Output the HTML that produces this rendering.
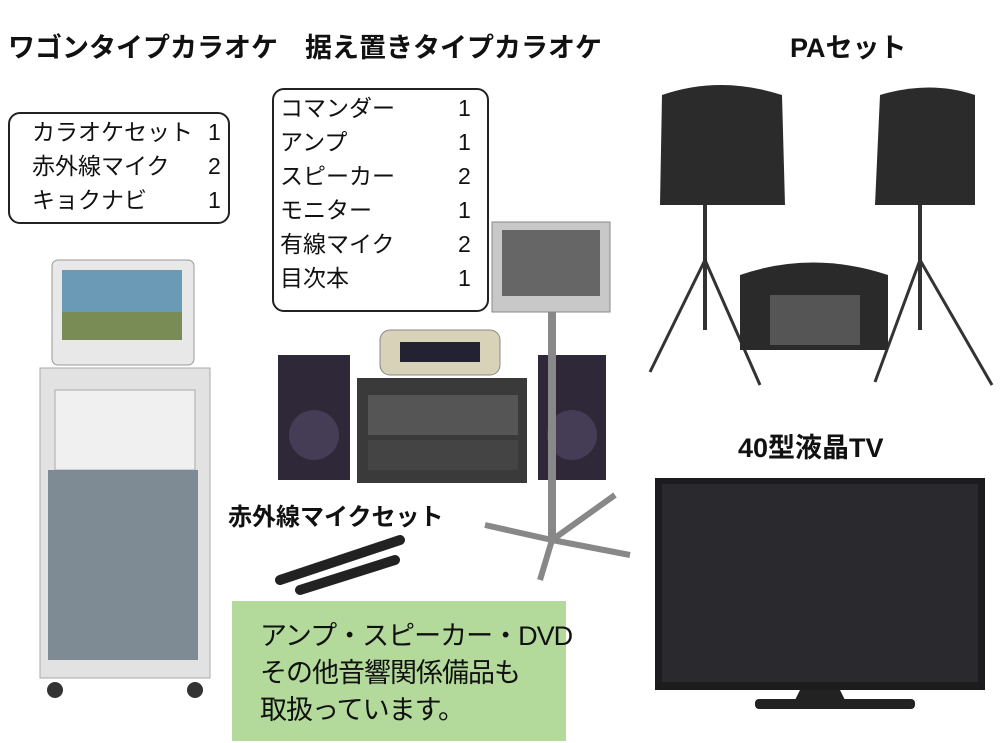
<!DOCTYPE html>
<html><head><meta charset="utf-8"><style>
html,body{margin:0;padding:0;background:#fff;}
body{width:1000px;height:743px;position:relative;overflow:hidden;font-family:"Liberation Sans","Noto Sans CJK JP",sans-serif;}
.t{position:absolute;font-weight:bold;font-size:27px;color:#111;white-space:nowrap;line-height:32px;}
.box{position:absolute;border:2px solid #222;border-radius:12px;background:#fff;}
.row{position:absolute;font-size:23px;color:#111;white-space:nowrap;line-height:30px;height:30px;}
.g{position:absolute;left:232px;top:601px;width:334px;height:140px;background:#b3d99b;}
.g div{position:absolute;left:28px;font-size:27px;line-height:34px;color:#111;white-space:nowrap;letter-spacing:-1px;}
</style></head><body>
<svg width="1000" height="743" style="position:absolute;left:0;top:0">
<rect x="52" y="260" width="142" height="105" rx="6" fill="#e8e8e8" stroke="#999"/>
<rect x="62" y="270" width="120" height="70" fill="#6a9ab5"/>
<rect x="62" y="312" width="120" height="28" fill="#7a8c55"/>
<rect x="40" y="368" width="170" height="310" fill="#e2e2e2" stroke="#aaa"/>
<rect x="55" y="390" width="140" height="80" fill="#f0f0f0" stroke="#aaa"/>
<rect x="48" y="470" width="150" height="190" fill="#7e8b95"/>
<circle cx="55" cy="690" r="8" fill="#333"/><circle cx="195" cy="690" r="8" fill="#333"/>
<rect x="278" y="355" width="72" height="125" fill="#2e2838"/>
<circle cx="314" cy="435" r="25" fill="#453d55"/>
<rect x="538" y="355" width="68" height="125" fill="#2e2838"/>
<circle cx="572" cy="435" r="25" fill="#453d55"/>
<rect x="380" y="330" width="120" height="45" rx="10" fill="#d8d2b8" stroke="#888"/>
<rect x="400" y="342" width="80" height="20" fill="#223"/>
<rect x="357" y="378" width="170" height="105" fill="#3a3a3a"/>
<rect x="368" y="395" width="150" height="40" fill="#555"/>
<rect x="368" y="440" width="150" height="30" fill="#444"/>
<rect x="492" y="222" width="118" height="90" fill="#c8c8c8" stroke="#888"/>
<rect x="502" y="230" width="98" height="66" fill="#666"/>
<rect x="548" y="312" width="8" height="230" fill="#888"/>
<line x1="552" y1="540" x2="485" y2="525" stroke="#888" stroke-width="6"/>
<line x1="552" y1="540" x2="630" y2="555" stroke="#888" stroke-width="6"/>
<line x1="552" y1="540" x2="540" y2="580" stroke="#888" stroke-width="6"/>
<line x1="552" y1="540" x2="615" y2="495" stroke="#888" stroke-width="6"/>
<line x1="280" y1="580" x2="400" y2="540" stroke="#222" stroke-width="10" stroke-linecap="round"/>
<line x1="300" y1="590" x2="395" y2="560" stroke="#222" stroke-width="10" stroke-linecap="round"/>
<path d="M662 95 Q720 75 782 95 L785 205 L660 205 Z" fill="#2b2b2b"/>
<path d="M880 95 Q930 80 975 95 L975 205 L875 205 Z" fill="#2b2b2b"/>
<line x1="705" y1="205" x2="705" y2="330" stroke="#333" stroke-width="4"/>
<line x1="705" y1="260" x2="650" y2="372" stroke="#333" stroke-width="3"/>
<line x1="705" y1="260" x2="760" y2="385" stroke="#333" stroke-width="3"/>
<line x1="920" y1="205" x2="920" y2="330" stroke="#333" stroke-width="4"/>
<line x1="920" y1="260" x2="875" y2="382" stroke="#333" stroke-width="3"/>
<line x1="920" y1="260" x2="992" y2="385" stroke="#333" stroke-width="3"/>
<path d="M740 275 Q812 250 888 275 L888 350 L740 350 Z" fill="#2a2a2a"/>
<rect x="770" y="295" width="90" height="50" fill="#555"/>
<rect x="655" y="478" width="330" height="212" fill="#1c1c1e"/>
<rect x="662" y="484" width="316" height="198" fill="#2a2a2e"/>
<path d="M800 690 L840 690 L845 700 L795 700 Z" fill="#222"/>
<rect x="755" y="699" width="160" height="10" rx="4" fill="#222"/>
</svg>
<div class="t" style="left:8px;top:32px">ワゴンタイプカラオケ</div>
<div class="t" style="left:305px;top:32px">据え置きタイプカラオケ</div>
<div class="t" style="left:790px;top:32px">PAセット</div>
<div class="t" style="left:228px;top:502px;font-size:24px">赤外線マイクセット</div>
<div class="t" style="left:738px;top:432px">40型液晶TV</div>
<div class="box" style="left:8px;top:112px;width:218px;height:108px"></div>
<div class="row" style="left:32px;top:117px">カラオケセット</div><div class="row" style="left:208px;top:117px">1</div>
<div class="row" style="left:32px;top:151px">赤外線マイク</div><div class="row" style="left:208px;top:151px">2</div>
<div class="row" style="left:32px;top:185px">キョクナビ</div><div class="row" style="left:208px;top:185px">1</div>
<div class="box" style="left:272px;top:88px;width:213px;height:220px"></div>
<div class="row" style="left:280px;top:93px">コマンダー</div><div class="row" style="left:458px;top:93px">1</div>
<div class="row" style="left:280px;top:127px">アンプ</div><div class="row" style="left:458px;top:127px">1</div>
<div class="row" style="left:280px;top:161px">スピーカー</div><div class="row" style="left:458px;top:161px">2</div>
<div class="row" style="left:280px;top:195px">モニター</div><div class="row" style="left:458px;top:195px">1</div>
<div class="row" style="left:280px;top:229px">有線マイク</div><div class="row" style="left:458px;top:229px">2</div>
<div class="row" style="left:280px;top:263px">目次本</div><div class="row" style="left:458px;top:263px">1</div>
<div class="g"><div style="top:18px">アンプ・スピーカー・DVD</div><div style="top:55px">その他音響関係備品も</div><div style="top:92px">取扱っています。</div></div>
</body></html>
